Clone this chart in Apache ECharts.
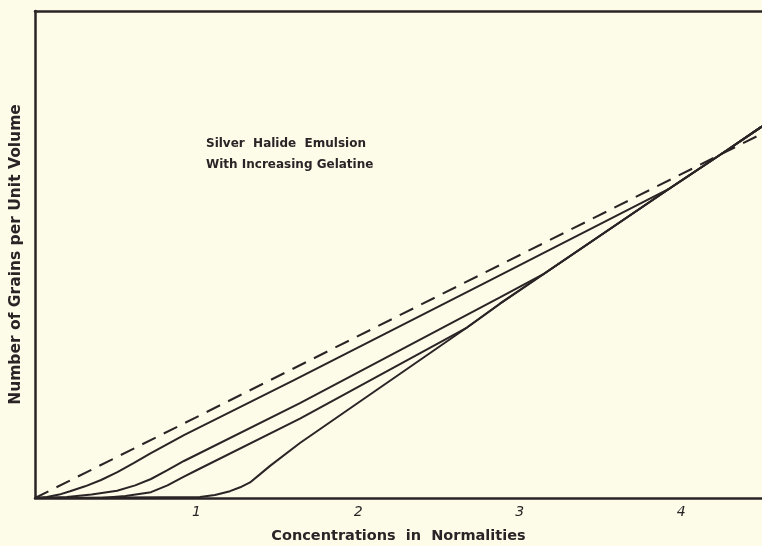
<!DOCTYPE html>
<html>
<head>
<meta charset="utf-8">
<script src="https://cdn.jsdelivr.net/npm/echarts@6/dist/echarts.min.js"></script>
<style>
  html, body { margin: 0; padding: 0; background: #fcfce8; }
  #chart { width: 762px; height: 546px; }
</style>
</head>
<body>
<div id="chart"></div>
<script>
// concentration (normalities) vs grains per unit volume
var xTicks = [1, 2, 3, 4]
var dashedLine = [[0, 0], [4.5, 74.8]]
var curveA = [[0, 0], [0.074, 0.2], [0.15, 0.7], [0.217, 1.4], [0.31, 2.4], [0.409, 3.7], [0.51, 5.3], [0.613, 7.2], [0.712, 9.1], [0.922, 12.9], [1.597, 24.1], [2.816, 44.7], [3.93, 63.6], [4.283, 71.4], [4.5, 76.3]]
var curveB = [[0, 0], [0.198, 0.2], [0.35, 0.7], [0.508, 1.5], [0.62, 2.6], [0.718, 3.9], [0.82, 5.7], [0.922, 7.6], [1.64, 19.5], [2.878, 41.2], [3.144, 45.9], [3.93, 63.6], [4.283, 71.4], [4.5, 76.3]]
var curveC = [[0, 0], [0.409, 0], [0.56, 0.4], [0.718, 1.2], [0.82, 2.6], [0.916, 4.3], [1.0, 5.7], [1.64, 16.3], [2.674, 35.0], [2.878, 39.9], [3.144, 45.9], [3.93, 63.6], [4.283, 71.4], [4.5, 76.3]]
var curveD = [[0, 0], [1.021, 0.2], [1.114, 0.6], [1.207, 1.4], [1.27, 2.2], [1.331, 3.2], [1.39, 4.8], [1.455, 6.6], [1.64, 11.3], [2.674, 35.0], [2.878, 39.9], [3.144, 45.9], [3.93, 63.6], [4.283, 71.4], [4.5, 76.3]]

var ink = '#2b2426'
var chart = echarts.init(document.getElementById('chart'))

function solid(data) {
  return {
    type: 'line',
    data: data,
    symbol: 'none',
    lineStyle: { color: ink, width: 2 }
  }
}

chart.setOption({
  backgroundColor: '#fcfce8',
  animation: false,
  grid: { left: 35, right: 0, top: 11, bottom: 48, outerBoundsMode: 'none', containLabel: false },
  graphic: [{
    type: 'text',
    left: 206,
    top: 133,
    style: {
      text: 'Silver  Halide  Emulsion\nWith Increasing Gelatine',
      font: 'bold 12px "DejaVu Sans"',
      lineHeight: 21,
      fill: ink
    }
  }],
  xAxis: [{
    type: 'value',
    min: 0,
    max: 4.5,
    interval: 1,
    name: 'Concentrations  in  Normalities',
    nameLocation: 'middle',
    nameGap: 31,
    nameTextStyle: { fontFamily: 'DejaVu Sans', fontWeight: 'bold', fontSize: 14.5, color: ink },
    axisLine: { show: true, lineStyle: { color: ink, width: 2.5 } },
    axisTick: { show: false },
    splitLine: { show: false },
    axisLabel: {
      margin: 7,
      fontFamily: 'DejaVu Sans',
      fontStyle: 'italic',
      fontSize: 14,
      color: ink,
      formatter: function (v) { return xTicks.indexOf(v) >= 0 ? String(v) : '' }
    }
  }, {
    type: 'value',
    position: 'top',
    min: 0,
    max: 4.5,
    axisLine: { show: true, lineStyle: { color: ink, width: 2.5 } },
    axisTick: { show: false },
    axisLabel: { show: false },
    splitLine: { show: false }
  }],
  yAxis: {
    type: 'value',
    min: 0,
    max: 100,
    name: 'Number of Grains per Unit Volume',
    nameLocation: 'middle',
    nameGap: 11,
    nameTextStyle: { fontFamily: 'DejaVu Sans', fontWeight: 'bold', fontSize: 15.5, color: ink },
    axisLine: { show: true, lineStyle: { color: ink, width: 2.5 } },
    axisTick: { show: false },
    axisLabel: { show: false },
    splitLine: { show: false }
  },
  series: [
    {
      type: 'line',
      data: dashedLine,
      symbol: 'none',
      lineStyle: { color: ink, width: 2, type: [15, 9] }
    },
    solid(curveA),
    solid(curveB),
    solid(curveC),
    solid(curveD)
  ]
})
</script>
</body>
</html>
